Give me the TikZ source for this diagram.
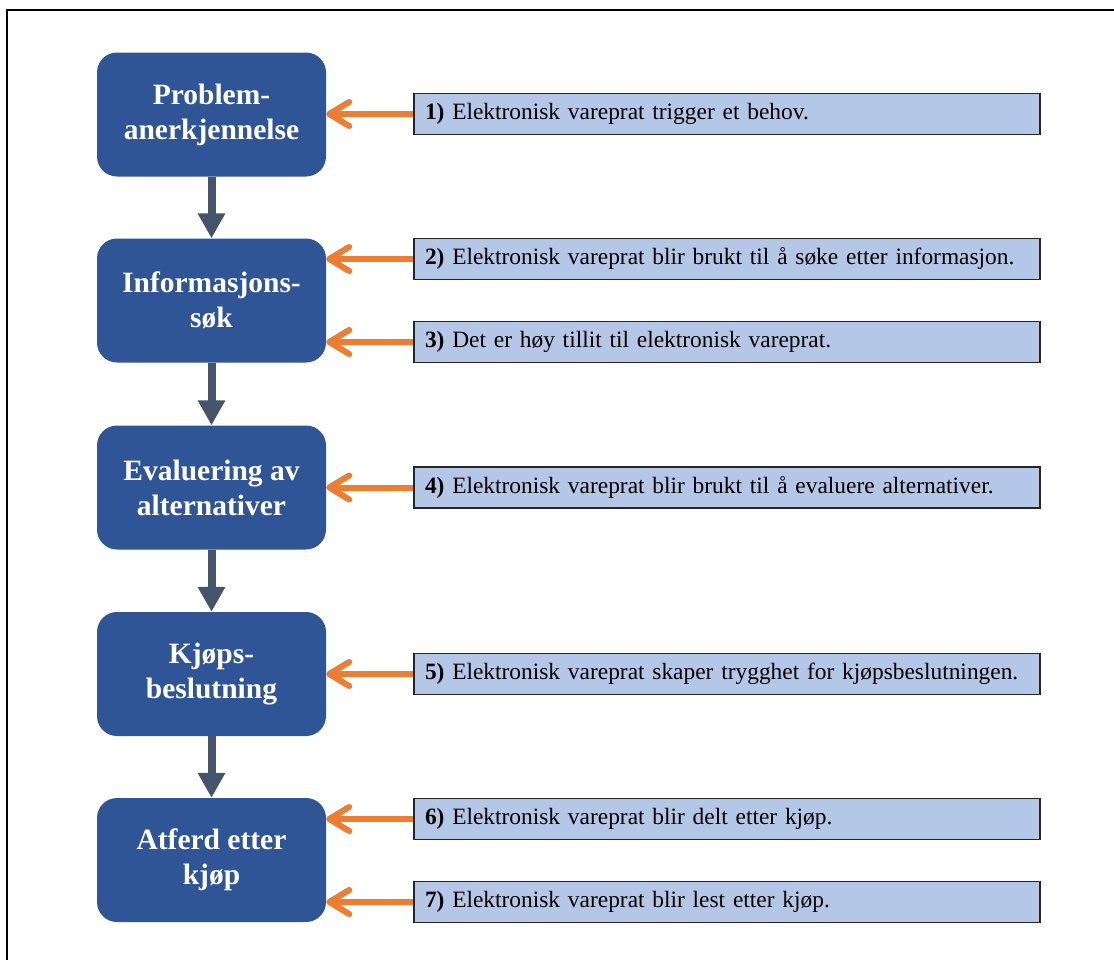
\documentclass[tikz,border=0pt]{standalone}
\usepackage{fontspec}
\setmainfont{Liberation Serif}
\usetikzlibrary{arrows.meta, positioning}

\definecolor{stageblue}{HTML}{2F5597}
\definecolor{effectblue}{HTML}{B4C7E7}
\definecolor{flowgrey}{HTML}{44546A}
\definecolor{hintorange}{HTML}{ED7D31}

\begin{document}
\begin{tikzpicture}[
    x=1pt, y=-1pt,
    stage/.style={fill=stageblue, rounded corners=20pt, minimum width=229pt, minimum height=124pt, align=center, text=white, font=\fontsize{29.5}{35}\selectfont\bfseries},
    effect/.style={draw=black!85, line width=1.6pt, fill=effectblue, minimum height=41pt, text width=604pt, inner xsep=11pt, align=left, font=\fontsize{23.4}{28}\selectfont},
    flow/.style={draw=flowgrey, line width=8pt, -{Triangle[length=25pt, width=26pt]}},
    hint/.style={draw=hintorange, line width=6pt, -{Straight Barb[length=20pt, width=24pt, round]}}
]
\useasboundingbox (0, 0) rectangle (1114, 959);
\draw[line width=1.5pt] (7, 975) -- (7, 10) -- (1130, 10);

\node[stage] (Problem) at (211.5, 114.5) {Problem-\\anerkjennelse};
\node[stage] (Search) at (211.5, 300.5) {Informasjons-\\søk};
\node[stage] (Evaluation) at (211.5, 487.5) {Evaluering av\\alternativer};
\node[stage] (Decision) at (211.5, 674) {Kjøps-\\beslutning};
\node[stage] (After) at (211.5, 860) {Atferd etter\\kjøp};

\node[effect] (Trigger) at (727, 114) {\textbf{1)} Elektronisk vareprat trigger et behov.};
\node[effect] (Used) at (727, 259) {\textbf{2)} Elektronisk vareprat blir brukt til å søke etter informasjon.};
\node[effect] (Trust) at (727, 342) {\textbf{3)} Det er høy tillit til elektronisk vareprat.};
\node[effect] (Compare) at (727, 487.5) {\textbf{4)} Elektronisk vareprat blir brukt til å evaluere alternativer.};
\node[effect] (Secure) at (727, 674) {\textbf{5)} Elektronisk vareprat skaper trygghet for kjøpsbeslutningen.};
\node[effect] (Shared) at (727, 819) {\textbf{6)} Elektronisk vareprat blir delt etter kjøp.};
\node[effect] (Read) at (727, 902) {\textbf{7)} Elektronisk vareprat blir lest etter kjøp.};

\draw[flow] (Problem.south) -- (Search.north);
\draw[flow] (Search.south) -- (Evaluation.north);
\draw[flow] (Evaluation.south) -- (Decision.north);
\draw[flow] (Decision.south) -- (After.north);

\draw[hint] (Trigger.west) -- (Trigger.west -| Problem.east);
\draw[hint] (Used.west) -- (Used.west -| Search.east);
\draw[hint] (Trust.west) -- (Trust.west -| Search.east);
\draw[hint] (Compare.west) -- (Compare.west -| Evaluation.east);
\draw[hint] (Secure.west) -- (Secure.west -| Decision.east);
\draw[hint] (Shared.west) -- (Shared.west -| After.east);
\draw[hint] (Read.west) -- (Read.west -| After.east);
\end{tikzpicture}
\end{document}
